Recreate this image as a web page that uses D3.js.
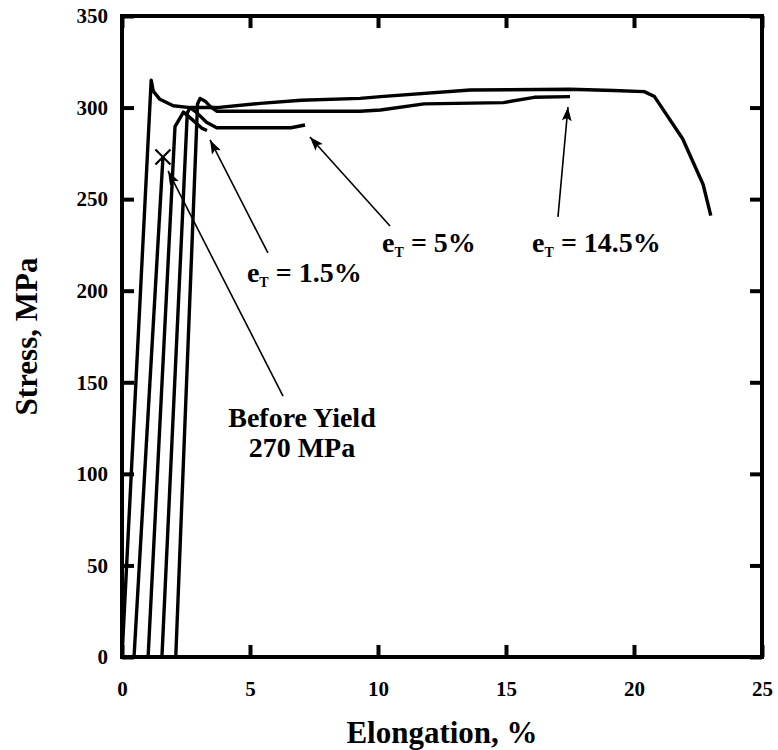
<!DOCTYPE html>
<html>
<head>
<meta charset="utf-8">
<script src="https://cdn.jsdelivr.net/npm/d3@7"></script>
<style>
  body { margin: 0; background: #fff; }
</style>
</head>
<body>
<svg id="chart" width="778" height="750"></svg>
<script>
// stress-strain curves: [elongation %, stress MPa]
const fullTest = [[0,0],[1.14,315],[1.22,309],[1.48,304.5],[2.0,301],[2.66,300],[3.7,300],[5.4,302.3],[7.0,304],[9.3,305],[10.1,306],[13.6,309.6],[17.5,310],[19.2,309.3],[20.4,308.7],[20.8,306],[21.9,283],[22.7,258],[23.0,241]];
const beforeYield = [[0.47,0],[1.6,273]];
const eT15 = [[1.02,0],[2.07,289.6],[2.4,297.5],[2.78,293],[3.11,288.8],[3.32,287.5]];
const eT5 = [[1.56,0],[2.55,297],[2.66,300],[2.9,297.5],[3.3,292],[3.7,289],[6.6,289],[7.15,290.5]];
const eT145 = [[2.1,0],[2.95,302],[3.05,305],[3.25,303.5],[3.45,300.5],[3.7,298],[9.3,298],[10.1,298.7],[11.8,302],[14.9,302.7],[16.1,305.6],[17.5,306]];

const xTicks = [0,5,10,15,20,25];
const yTicks = [0,50,100,150,200,250,300,350];

// annotation labels: [x, y] in data units
const labels = [
  { pre: "e", subText: "T", post: "= 1.5%", at: [4.88, 204.8] },
  { pre: "e", subText: "T", post: "= 5%", at: [10.16, 221.1] },
  { pre: "e", subText: "T", post: "= 14.5%", at: [16.02, 221.1] }
];
const beforeYieldLines = ["Before Yield", "270 MPa"];
const beforeYieldAt = [7.03, 125.6];
// arrows: from tail to tip (data units)
const arrows = [
  [[5.70,220.6],[3.44,282.3]],
  [[10.47,235.3],[7.34,283.9]],
  [[17.03,240.3],[17.42,300.3]],
  [[6.29,142.5],[1.80,265.4]]
];

const FONT = '"Liberation Serif", "Times New Roman", Times, serif';
const margin = { top: 16, right: 16, bottom: 93, left: 122 };
const width = 778;
const height = 750;
const innerWidth = width - margin.left - margin.right;
const innerHeight = height - margin.top - margin.bottom;

const xScale = d3.scaleLinear().domain([0,25]).range([0, innerWidth]);
const yScale = d3.scaleLinear().domain([0,350]).range([innerHeight, 0]);

const svg = d3.select("#chart");
svg.append("defs").append("marker")
  .attr("id","head")
  .attr("markerUnits","userSpaceOnUse")
  .attr("viewBox","0 0 14 10")
  .attr("refX",14).attr("refY",5)
  .attr("markerWidth",14).attr("markerHeight",10)
  .attr("orient","auto")
  .append("path")
  .attr("d","M0,0 L14,5 L0,10 L3,5 Z")
  .attr("fill","#000");

const g = svg.append("g")
  .attr("transform", `translate(${margin.left}, ${margin.top})`);

// axes, ticks pointing inward on all four sides
const xAxis = d3.axisBottom(xScale).tickValues(xTicks).tickSizeInner(-12).tickSizeOuter(0).tickPadding(24);
const yAxis = d3.axisLeft(yScale).tickValues(yTicks).tickSizeInner(-12).tickSizeOuter(0).tickPadding(14);

const gx = g.append("g").attr("transform", `translate(0, ${innerHeight})`).call(xAxis);
const gy = g.append("g").call(yAxis);
const gTop = g.append("g").call(d3.axisTop(xScale).tickValues(xTicks).tickSizeInner(-12).tickSizeOuter(0));
const gRight = g.append("g").attr("transform", `translate(${innerWidth},0)`)
  .call(d3.axisRight(yScale).tickValues(yTicks).tickSizeInner(-12).tickSizeOuter(0));
gTop.selectAll("text").remove();
gRight.selectAll("text").remove();

g.selectAll(".domain").remove();
g.selectAll(".tick line").attr("stroke","#000").attr("stroke-width",4);
[gx, gy].forEach(a => {
  a.attr("font-family", FONT).attr("font-size", 21).attr("font-weight", "bold");
  a.selectAll("text").style("font-family", FONT).style("font-size","21px").style("font-weight","bold").attr("fill","#000");
});

g.append("rect")
  .attr("width", innerWidth).attr("height", innerHeight)
  .attr("fill","none").attr("stroke","#000").attr("stroke-width",4);

// curves
const line = d3.line().x(d => xScale(d[0])).y(d => yScale(d[1]));
[fullTest, beforeYield, eT15, eT5, eT145].forEach(c => {
  g.append("path")
    .datum(c)
    .attr("fill","none")
    .attr("stroke","#000")
    .attr("stroke-width",3.4)
    .attr("stroke-linejoin","round")
    .attr("d", line);
});

// X marker at end of the before-yield loading
const end = beforeYield[beforeYield.length - 1];
g.append("path")
  .attr("transform", `translate(${xScale(end[0])}, ${yScale(end[1])})`)
  .attr("d", d3.symbol(d3.symbolX, 150)())
  .attr("fill","none").attr("stroke","#000").attr("stroke-width",2.2);

// arrows
arrows.forEach(a => {
  g.append("line")
    .attr("x1", xScale(a[0][0])).attr("y1", yScale(a[0][1]))
    .attr("x2", xScale(a[1][0])).attr("y2", yScale(a[1][1]))
    .attr("stroke","#000").attr("stroke-width",1.6)
    .attr("marker-end","url(#head)");
});

// labels (e, subscript T, rest as separate texts placed side by side)
function styleText(sel, size) {
  return sel.style("font-family", FONT).style("font-weight","bold").style("font-size", size + "px").attr("fill","#000");
}
labels.forEach(l => {
  let x = xScale(l.at[0]);
  const y = yScale(l.at[1]);
  const e = styleText(g.append("text"), 28).attr("x", x).attr("y", y).text(l.pre);
  x += e.node().getComputedTextLength();
  const s = styleText(g.append("text"), 14).attr("x", x).attr("y", y + 5).text(l.subText);
  x += s.node().getComputedTextLength() + 7;
  styleText(g.append("text"), 28).attr("x", x).attr("y", y).text(l.post);
});

beforeYieldLines.forEach((s, i) => {
  styleText(g.append("text"), 28)
    .attr("x", xScale(beforeYieldAt[0]))
    .attr("y", yScale(beforeYieldAt[1]) + i * 30)
    .attr("text-anchor","middle")
    .text(s);
});

// axis titles
styleText(svg.append("text"), 31)
  .attr("x", margin.left + innerWidth / 2)
  .attr("y", 743)
  .attr("text-anchor","middle")
  .text("Elongation, %");

styleText(svg.append("text"), 31)
  .attr("transform", `translate(37, ${margin.top + innerHeight / 2}) rotate(-90)`)
  .attr("text-anchor","middle")
  .text("Stress, MPa");
</script>
</body>
</html>
